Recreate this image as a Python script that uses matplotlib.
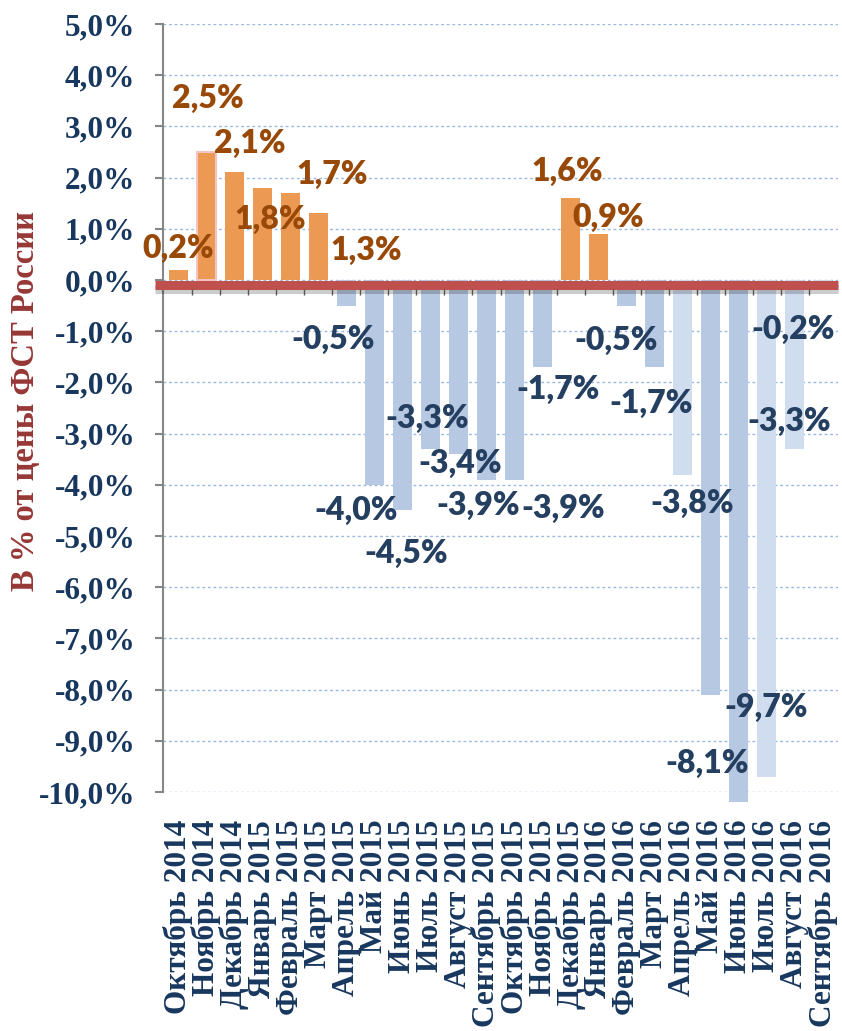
import numpy as np
import matplotlib
matplotlib.use("Agg")
import matplotlib.pyplot as plt
import matplotlib.patheffects as pe
from matplotlib.transforms import offset_copy

months = ["Октябрь 2014", "Ноябрь 2014", "Декабрь 2014", "Январь 2015", "Февраль 2015",
          "Март 2015", "Апрель 2015", "Май 2015", "Июнь 2015", "Июль 2015", "Август 2015",
          "Сентябрь 2015", "Октябрь 2015", "Ноябрь 2015", "Декабрь 2015", "Январь 2016",
          "Февраль 2016", "Март 2016", "Апрель 2016", "Май 2016", "Июнь 2016", "Июль 2016",
          "Август 2016", "Сентябрь 2016"]
values = [0.2, 2.5, 2.1, 1.8, 1.7, 1.3, -0.5, -4.0, -4.5, -3.3, -3.4, -3.9,
          -3.9, -1.7, 1.6, 0.9, -0.5, -1.7, -3.8, -8.1, -10.2, -9.7, -3.3, -0.2]
# label text per bar (June 2016 has none in the source)
labels = ["0,2%", "2,5%", "2,1%", "1,8%", "1,7%", "1,3%", "-0,5%", "-4,0%", "-4,5%",
          "-3,3%", "-3,4%", "-3,9%", "-3,9%", "-1,7%", "1,6%", "0,9%", "-0,5%", "-1,7%",
          "-3,8%", "-8,1%", None, "-9,7%", "-3,3%", "-0,2%"]
light = ["Апрель 2016", "Июль 2016", "Август 2016", "Сентябрь 2016"]

# hand placement of the value labels (data coords), as in the source slide
lab_x = [0.0, 1.07, 2.54, 3.29, 5.5, 6.71, 5.54, 6.36, 8.14, 8.89, 10.07, 10.71,
         13.75, 13.57, 13.89, 15.36, 15.64, 16.89, 18.36, 18.89, 0, 21.0, 21.82, 21.93]
lab_y = [0.62, 3.54, 2.66, 1.19, 2.07, 0.57, -1.17, -4.51, -5.35, -2.71, -3.59, -4.41,
         -4.47, -2.13, 2.11, 1.23, -1.19, -2.42, -4.36, -9.45, 0, -8.34, -2.77, -0.96]

navy = "#17375E"
orange_txt = "#984807"
blue_txt = "#243F60"

fig = plt.figure(figsize=(8.42, 10.31), dpi=100)
ax = fig.add_axes([163 / 842, 1 - 792 / 1031, (838 - 163) / 842, (792 - 24) / 1031])

x = np.arange(len(months))
colors = []
for m, v in zip(months, values):
    if v > 0:
        colors.append("#EC9954")
    elif m in light:
        colors.append("#D0DDEE")
    else:
        colors.append("#B7C8E2")

bars = ax.bar(x, values, width=0.68, color=colors, zorder=2, clip_on=False)
bars[1].set_edgecolor("#F2C4C2")
bars[1].set_linewidth(1.5)

ax.set_xlim(-0.55, len(months) - 0.45)
ax.set_ylim(-10, 5)
ticks = np.arange(-10, 6)
ax.set_yticks(ticks)
ax.set_yticklabels([f"{t:.1f}%".replace(".", ",") for t in ticks],
                   family="Liberation Serif", weight="bold", size=22.5, color=navy)
ax.yaxis.grid(True, color="#9DB9DE", linestyle=(0, (2, 2)), linewidth=1)
ax.set_axisbelow(True)

ax.set_xticks(x)
ax.set_xticklabels(months, rotation=90, va="top", ha="center",
                   family="Liberation Serif", weight="bold", size=22.5, color=navy)
ax.tick_params(axis="x", length=0, pad=20)
ax.tick_params(axis="y", length=6, width=1.5, color="#868686", pad=14)

for s in ["top", "right", "bottom"]:
    ax.spines[s].set_visible(False)
ax.spines["left"].set_color("#868686")
ax.spines["left"].set_linewidth(1.5)

# thick red zero line with a soft shadow
tr = offset_copy(ax.transData, fig=fig, y=-4.5, units="dots")
ax.plot([-0.82, len(months) - 0.45], [0, 0], color="#C0504D", lw=6.5,
        solid_capstyle="butt", transform=tr, clip_on=False, zorder=4,
        path_effects=[pe.SimpleLineShadow(offset=(0, -3), alpha=0.2), pe.Normal()])
tr2 = offset_copy(ax.transData, fig=fig, y=-12, units="dots")
ax.plot(x[:-1] + 0.5, np.zeros(len(x) - 1), linestyle="none", marker="|",
        markersize=4, color="#555555", transform=tr2, zorder=5, clip_on=False)

for lab, lx, ly, v in zip(labels, lab_x, lab_y, values):
    if lab is None:
        continue
    ax.text(lx, ly, lab, ha="center", va="center", family="Lato", weight="heavy",
            size=23, color=orange_txt if v > 0 else blue_txt, zorder=6)

fig.text(26 / 842, 1 - 401 / 1031, "В % от цены ФСТ России", rotation=90,
         ha="center", va="center", family="Liberation Serif", weight="bold",
         size=23.5, color="#953735")

fig.savefig("out.png", dpi=100)
